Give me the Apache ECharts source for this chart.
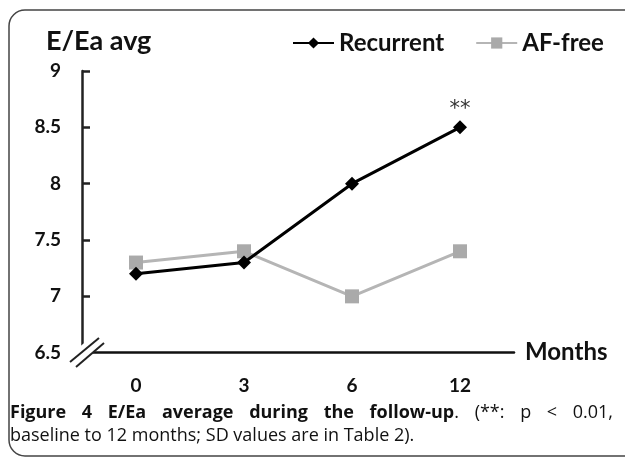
<!DOCTYPE html>
<html><head><meta charset="utf-8">
<script src="https://cdn.jsdelivr.net/npm/echarts@6/dist/echarts.min.js"></script>
<style>html,body{margin:0;padding:0;background:#fff}#c{width:625px;height:462px}</style>
</head><body><div id="c"></div>
<script>
const months = ['0', '3', '6', '12'];
const recurrent = [7.2, 7.3, 8.0, 8.5];
const afFree = [7.3, 7.4, 7.0, 7.4];
const yTicks = [6.5, 7, 7.5, 8, 8.5, 9];
const sigIndex = 3;
const sigMark = '**';
const yTitle = 'E/Ea avg';
const xTitle = 'Months';
const captionBold = 'Figure 4 E/Ea average during the follow-up';
const captionRest1 = '. (**: p < 0.01,';
const captionLine2 = 'baseline to 12 months; SD values are in Table 2).';

const CAP_FONT = '"Open Sans", sans-serif';
const CAP_SIZE = 18;
const ctx = document.createElement('canvas').getContext('2d');
function mw(t, bold) { ctx.font = (bold ? 'bold ' : '') + CAP_SIZE + 'px ' + CAP_FONT; return ctx.measureText(t).width; }

// build justified first caption line: bold words, then the normal remainder
const boldWords = captionBold.split(' ');
const restWords = captionRest1.split(' ');
const tokens = boldWords.map(w => [[w, true]]);
tokens[tokens.length - 1].push([restWords[0], false]);
restWords.slice(1).forEach(w => tokens.push([[w, false]]));
const tokW = tokens.map(t => t.reduce((s, seg) => s + mw(seg[0], seg[1]), 0));
const lineL = 10, lineR = 613;
const gap = (lineR - lineL - tokW.reduce((a, b) => a + b, 0)) / (tokens.length - 1);
const capGraphics = [];
let cx = lineL;
tokens.forEach((t, i) => {
  capGraphics.push({
    type: 'text', z: 101, x: cx, y: 404,
    style: {
      text: t.map(seg => '{' + (seg[1] ? 'b' : 'n') + '|' + seg[0] + '}').join(''),
      rich: {
        b: {fontFamily: CAP_FONT, fontWeight: 'bold', fontSize: CAP_SIZE, fill: '#111'},
        n: {fontFamily: CAP_FONT, fontWeight: 'normal', fontSize: CAP_SIZE, fill: '#111'}
      }
    }
  });
  cx += tokW[i] + gap;
});

const chart = echarts.init(document.getElementById('c'));
const F = 'Lato, "Open Sans", sans-serif';
chart.setOption({
  animation: false,
  backgroundColor: '#fff',
  grid: {left: 82, right: 111, top: 71, bottom: 109.3, containLabel: false},
  title: {text: yTitle, left: 41, top: 23,
    textStyle: {fontFamily: F, fontWeight: 'bold', fontSize: 27, color: '#111'}},
  legend: {
    left: 287, top: 26, itemWidth: 41, itemHeight: 14, itemGap: 31,
    textStyle: {fontFamily: F, fontWeight: 'bold', fontSize: 24, color: '#111'},
    data: ['Recurrent', 'AF-free']
  },
  xAxis: {
    type: 'category', data: months, boundaryGap: true,
    axisLine: {lineStyle: {color: '#111', width: 2.5}},
    axisTick: {show: false},
    axisLabel: {fontFamily: F, fontWeight: 'bold', fontSize: 19, color: '#111', margin: 24},
    name: xTitle, nameLocation: 'end', nameGap: 11,
    nameTextStyle: {fontFamily: F, fontWeight: 'bold', fontSize: 24, color: '#111', padding: [10, 0, 0, 0]}
  },
  yAxis: {
    type: 'value', min: yTicks[0], max: yTicks[yTicks.length - 1], interval: 0.5,
    axisLine: {show: true, lineStyle: {color: '#222', width: 2.5}},
    axisTick: {show: true, inside: true, length: 8, lineStyle: {color: '#222', width: 2.5}},
    splitLine: {show: false},
    axisLabel: {fontFamily: F, fontWeight: 'bold', fontSize: 19, color: '#111', margin: 21}
  },
  series: [
    {
      name: 'Recurrent', type: 'line', z: 3,
      data: recurrent.map((v, i) => i === sigIndex ? {value: v, label: {show: true, formatter: sigMark}} : v),
      symbol: 'diamond', symbolSize: 14,
      itemStyle: {color: '#000'},
      lineStyle: {color: '#000', width: 3},
      label: {show: false, position: 'top', distance: 0, fontSize: 21, color: '#333', fontFamily: 'DejaVu Sans'}
    },
    {
      name: 'AF-free', type: 'line', z: 2,
      data: afFree,
      symbol: 'rect', symbolSize: 14,
      itemStyle: {color: '#aaaaaa'},
      lineStyle: {color: '#b5b5b5', width: 3}
    }
  ],
  graphic: [
    {type: 'rect', z: 100, shape: {x: 9, y: 10, width: 660, height: 446, r: 16},
      style: {fill: 'none', stroke: '#444', lineWidth: 1.5}},
    {type: 'polygon', z: 100, shape: {points: [[66, 358], [100, 330], [108, 338], [74, 372]]},
      style: {fill: '#fff'}},
    {type: 'line', z: 101, shape: {x1: 70, y1: 362, x2: 99, y2: 338}, style: {stroke: '#222', lineWidth: 2}},
    {type: 'line', z: 101, shape: {x1: 76, y1: 367, x2: 104, y2: 343}, style: {stroke: '#222', lineWidth: 2}},
    ...capGraphics,
    {type: 'text', z: 101, x: 10, y: 427,
      style: {text: captionLine2, font: CAP_SIZE + 'px ' + CAP_FONT, fill: '#111'}}
  ]
});
</script></body></html>
